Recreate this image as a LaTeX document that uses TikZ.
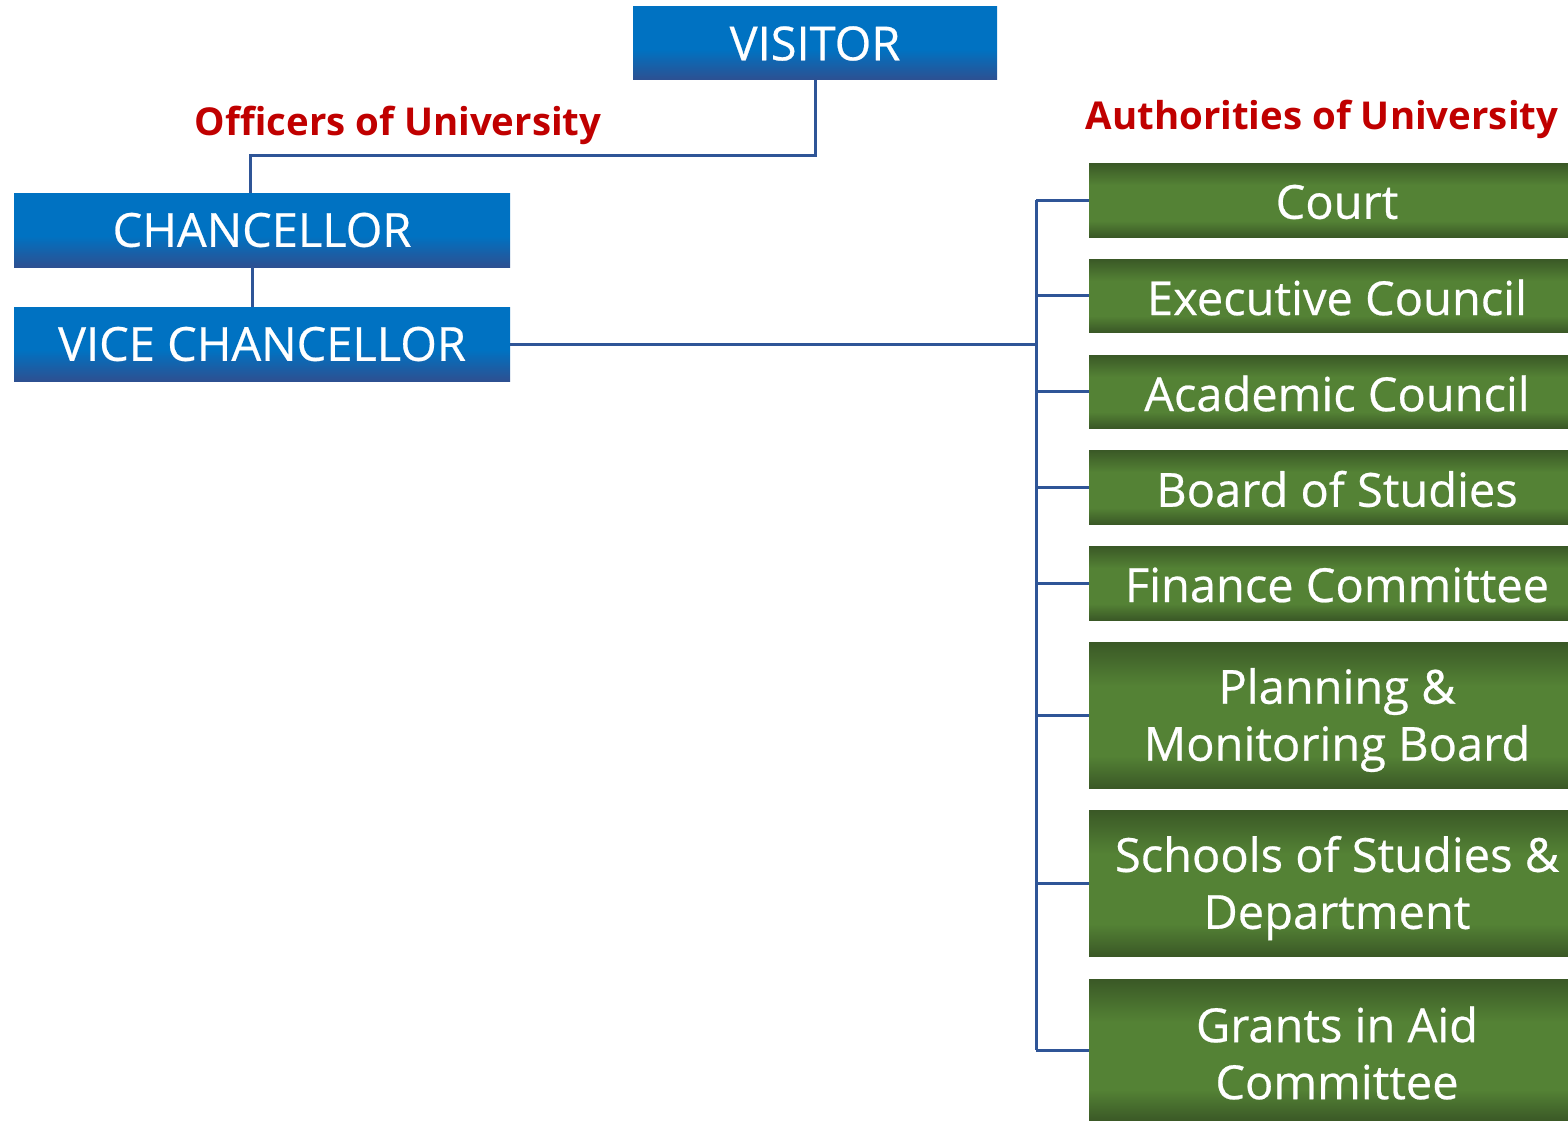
\documentclass[tikz,border=0pt]{standalone}
\usepackage{fontspec}
\setmainfont{Open Sans}
\newfontfamily\boxfnt[FakeBold=0.5]{Open Sans}
\definecolor{blight}{RGB}{0,114,194}
\definecolor{bdark}{RGB}{45,80,145}
\definecolor{gdark}{RGB}{58,88,38}
\definecolor{gmid}{RGB}{84,130,53}
\definecolor{linec}{RGB}{47,85,151}
\definecolor{redt}{RGB}{192,0,0}
\pgfdeclareverticalshading{blueshade}{100bp}{color(0bp)=(bdark); color(25bp)=(bdark); color(46bp)=(blight); color(75bp)=(blight); color(100bp)=(blight)}
\pgfdeclareverticalshading{greenshade}{100bp}{color(0bp)=(gdark); color(25bp)=(gdark); color(36bp)=(gmid); color(60bp)=(gmid); color(75bp)=(gdark); color(100bp)=(gdark)}
\begin{document}
\begin{tikzpicture}[x=1pt,y=-1pt,
  boxfont/.style={font=\boxfnt\fontsize{47}{57}\selectfont},
  bluebox/.style={shading=blueshade, inner sep=0pt, text=white, boxfont, align=center},
  greenbox/.style={shading=greenshade, inner sep=0pt, minimum width=479pt},
  gtext/.style={text=white, boxfont, align=center, inner sep=0pt, xshift=8.5pt, yshift=-2pt},
  gtext2/.style={gtext, yshift=-3pt},
  conn/.style={draw=linec, line width=3pt},
  redlabel/.style={text=redt, font=\fontsize{38.4}{46}\selectfont\bfseries, inner sep=0pt}
]
\useasboundingbox (0,0) rectangle (1568,1121);
\node[bluebox, minimum width=364pt, minimum height=73pt] (visitor) at (815,43.5) {VISITOR};
\node[bluebox, minimum width=496pt, minimum height=74pt] (chancellor) at (262,230) {CHANCELLOR};
\node[bluebox, minimum width=496pt, minimum height=74pt] (vc) at (262,344) {VICE CHANCELLOR};
\node[redlabel] (officers) at (398,125) {Officers of University};
\node[redlabel] (authorities) at (1322,119) {Authorities of University};
\node[greenbox, minimum height=74pt, label={[gtext]center:Court}] (court) at (1328.5,200) {};
\node[greenbox, minimum height=73pt, label={[gtext]center:Executive Council}] (exec) at (1328.5,295.5) {};
\node[greenbox, minimum height=73pt, label={[gtext]center:Academic Council}] (acad) at (1328.5,391.5) {};
\node[greenbox, minimum height=74pt, label={[gtext]center:Board of Studies}] (board) at (1328.5,487) {};
\node[greenbox, minimum height=74pt, label={[gtext]center:Finance Committee}] (finance) at (1328.5,583) {};
\node[greenbox, minimum height=146pt, label={[gtext2]center:Planning \&\\Monitoring Board}] (planning) at (1328.5,715) {};
\node[greenbox, minimum height=146pt, label={[gtext2]center:Schools of Studies \&\\Department}] (schools) at (1328.5,883) {};
\node[greenbox, minimum height=142pt, label={[gtext2, yshift=2pt]center:Grants in Aid\\Committee}] (grants) at (1328.5,1050) {};
\coordinate (j1) at (250,155);
\coordinate (bus) at (1036,344);
\draw[conn] (visitor.south) |- (j1) -- (j1 |- chancellor.north);
\draw[conn] ([xshift=-10pt]chancellor.south) -- ([xshift=-10pt]vc.north);
\draw[conn] (vc.east) -- (bus);
\draw[conn] (court.west -| bus) -- (grants.west -| bus);
\foreach \n in {court,exec,acad,board,finance,planning,schools,grants}
  \draw[conn] (\n.west -| bus) -- (\n.west);
\end{tikzpicture}
\end{document}
